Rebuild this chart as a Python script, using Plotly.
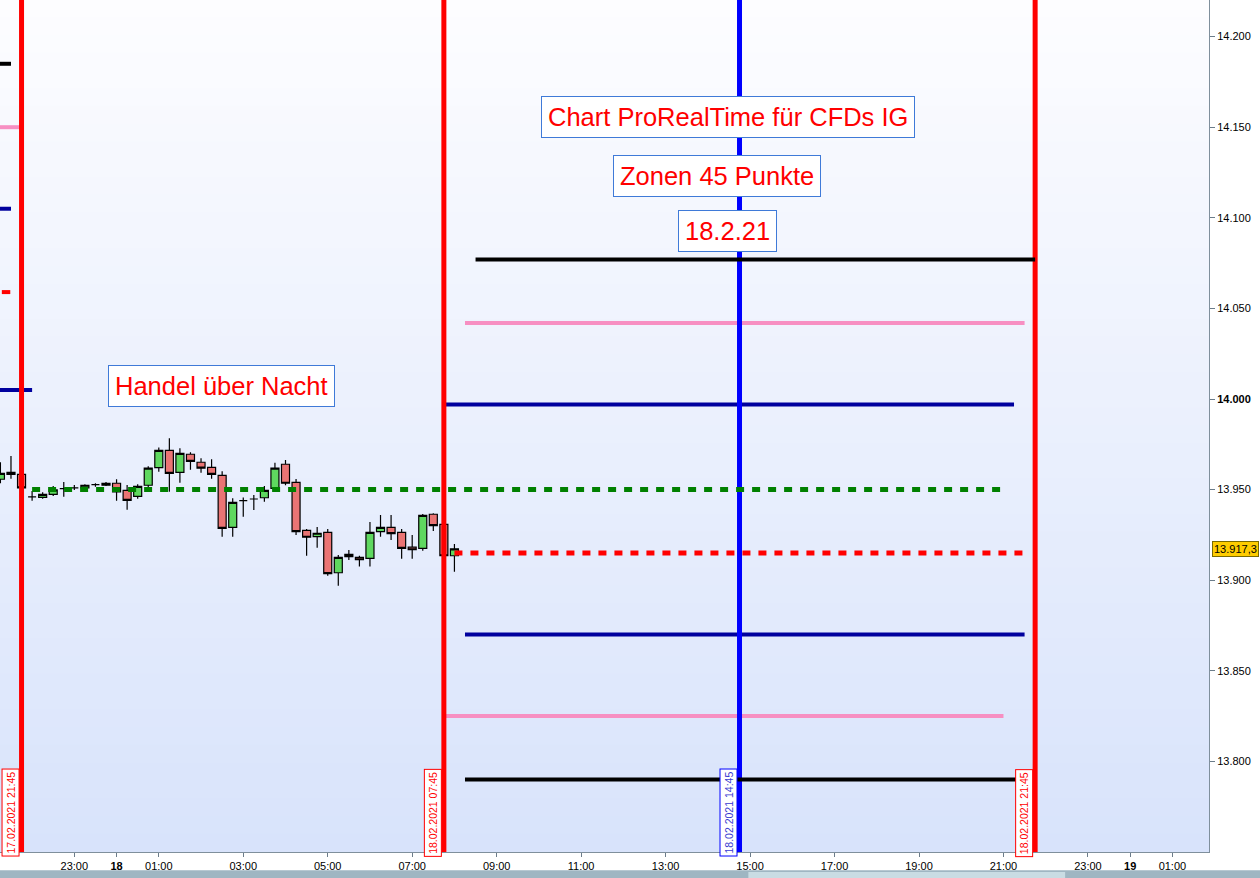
import plotly.graph_objects as go
import pandas as pd

# ---------------- data ----------------
candle_start = "2021-02-17 21:15"
opens = [13955.7, 13959.5, 13958.4, 13946.0, 13945.7, 13947.4, 13950.5, 13950.9, 13951.0, 13952.7,
         13952.4, 13953.5, 13949.6, 13946.3, 13952.4, 13962.1, 13971.7, 13959.5, 13969.5, 13965.1,
         13962.3, 13957.9, 13929.2, 13943.9, 13944.8, 13945.5, 13950.7, 13964.0, 13954.0, 13927.5,
         13924.0, 13926.4, 13904.1, 13913.0, 13912.6, 13912.1, 13926.8, 13929.2, 13926.4, 13918.2,
         13917.6, 13936.4, 13930.8, 13913.5]
highs = [13965.1, 13968.5, 13959.0, 13949.2, 13948.5, 13952.0, 13954.2, 13952.5, 13952.9, 13953.5,
         13954.2, 13955.7, 13952.5, 13952.9, 13962.9, 13973.3, 13978.3, 13972.8, 13970.6, 13967.3,
         13966.7, 13960.1, 13945.2, 13945.7, 13947.0, 13952.0, 13964.8, 13966.3, 13955.8, 13928.3,
         13929.4, 13928.3, 13913.9, 13916.7, 13913.5, 13932.1, 13936.0, 13936.0, 13928.3, 13924.9,
         13936.5, 13936.9, 13931.5, 13920.0]
lows = [13953.5, 13956.0, 13950.5, 13943.9, 13945.0, 13946.5, 13946.1, 13949.8, 13949.8, 13951.6,
        13952.0, 13943.9, 13938.9, 13945.0, 13950.7, 13959.9, 13948.8, 13953.8, 13961.0, 13959.3,
        13956.0, 13924.0, 13924.0, 13935.0, 13938.7, 13943.3, 13948.8, 13952.4, 13924.9, 13913.5,
        13917.9, 13902.5, 13897.0, 13911.1, 13907.5, 13907.5, 13924.0, 13922.2, 13911.9, 13911.9,
        13916.3, 13927.2, 13912.5, 13904.7]
closes = [13959.0, 13958.4, 13951.0, 13946.0, 13947.4, 13949.8, 13950.5, 13950.9, 13952.4, 13952.7,
          13953.5, 13948.8, 13944.1, 13951.8, 13961.8, 13971.7, 13959.0, 13970.0, 13965.6, 13961.8,
          13958.4, 13928.6, 13943.0, 13943.9, 13944.8, 13949.6, 13961.8, 13953.5, 13926.8, 13923.7,
          13925.9, 13903.6, 13912.6, 13914.3, 13911.3, 13926.4, 13929.2, 13925.7, 13917.6, 13916.8,
          13935.8, 13930.1, 13913.5, 13917.3]
candle_times = pd.date_range(candle_start, periods=len(opens), freq="15min")

# zone lines of the day (18.2.21)
zone_names = ["black_up", "pink_up", "blue_up", "green_pivot", "red_close", "blue_dn", "pink_dn", "black_dn"]
zone_levels = [14077, 14042, 13997, 13950, 13915, 13870, 13825, 13790]
zone_start = ["2021-02-18 08:30", "2021-02-18 08:15", "2021-02-18 07:45", "2021-02-17 22:00",
              "2021-02-18 08:00", "2021-02-18 08:15", "2021-02-18 07:45", "2021-02-18 08:15"]
zone_end = ["2021-02-18 21:45", "2021-02-18 21:30", "2021-02-18 21:15", "2021-02-18 21:00",
            "2021-02-18 21:30", "2021-02-18 21:30", "2021-02-18 21:00", "2021-02-18 21:30"]

# previous day's lines (ending at left edge)
prev_levels = [14185, 14150, 14105, 14059, 14005]
prev_start = ["2021-02-17 21:00", "2021-02-17 21:00", "2021-02-17 21:00", "2021-02-17 21:17", "2021-02-17 21:00"]
prev_end = ["2021-02-17 21:30", "2021-02-17 21:44", "2021-02-17 21:30", "2021-02-17 21:29", "2021-02-17 22:00"]

# vertical time markers
vline_times = ["2021-02-17 21:45", "2021-02-18 07:45", "2021-02-18 14:45", "2021-02-18 21:45"]
vline_labels = ["17.02.2021 21:45", "18.02.2021 07:45", "18.02.2021 14:45", "18.02.2021 21:45"]

# text boxes
box_texts = ["Chart ProRealTime für CFDs IG", "Zonen 45 Punkte", "18.2.21", "Handel über Nacht"]
box_times = ["2021-02-18 14:28", "2021-02-18 14:13", "2021-02-18 14:28", "2021-02-18 02:29"]
box_prices = [14155.6, 14123.1, 14092.7, 14007.2]

last_price = 13917.3
last_price_label = "13.917,3"

# axis ticks
y_tickvals = [13800, 13850, 13900, 13950, 14000, 14050, 14100, 14150, 14200]
y_ticktext = ["13.800", "13.850", "13.900", "13.950", "<b>14.000</b>", "14.050", "14.100", "14.150", "14.200"]
x_tickvals = ["2021-02-17 23:00", "2021-02-18 00:00", "2021-02-18 01:00", "2021-02-18 03:00",
              "2021-02-18 05:00", "2021-02-18 07:00", "2021-02-18 09:00", "2021-02-18 11:00",
              "2021-02-18 13:00", "2021-02-18 15:00", "2021-02-18 17:00", "2021-02-18 19:00",
              "2021-02-18 21:00", "2021-02-18 23:00", "2021-02-19 00:00", "2021-02-19 01:00"]
x_ticktext = ["23:00", "<b>18</b>", "01:00", "03:00", "05:00", "07:00", "09:00", "11:00",
              "13:00", "15:00", "17:00", "19:00", "21:00", "23:00", "<b>19</b>", "01:00"]

x_range = ["2021-02-17 21:14:24", "2021-02-19 01:52:00"]
y_range = [13750, 14220.2]

# ---------------- styles ----------------
FONT = "Arial, Liberation Sans, sans-serif"
zone_style = {
    "black_up": dict(color="#000000", width=4, dash="solid"),
    "pink_up": dict(color="#f78fc2", width=4, dash="solid"),
    "blue_up": dict(color="#00009e", width=4, dash="solid"),
    "green_pivot": dict(color="#008000", width=5, dash="8px,8px"),
    "red_close": dict(color="#ff0000", width=5, dash="8px,8px"),
    "blue_dn": dict(color="#00009e", width=4, dash="solid"),
    "pink_dn": dict(color="#f78fc2", width=4, dash="solid"),
    "black_dn": dict(color="#000000", width=4, dash="solid"),
}
prev_colors = ["#000000", "#f78fc2", "#00009e", "#ff0000", "#00009e"]
vline_colors = ["#ff0000", "#ff0000", "#0000ff", "#ff0000"]
vlabel_colors = ["#ff0000", "#ff0000", "#3a3ad0", "#ff0000"]

fig = go.Figure()

fig.add_trace(go.Candlestick(
    x=candle_times, open=opens, high=highs, low=lows, close=closes,
    increasing=dict(line=dict(color="#000000", width=1.2), fillcolor="#5fd85f"),
    decreasing=dict(line=dict(color="#000000", width=1.2), fillcolor="#ea7474"),
    whiskerwidth=0, showlegend=False, hoverinfo="skip",
))


def hline(name, level, t0, t1, style):
    fig.add_trace(go.Scatter(
        x=[t0, t1], y=[level, level], mode="lines",
        line=dict(color=style["color"], width=style["width"], dash=style["dash"]),
        showlegend=False, hoverinfo="skip", name=name,
    ))


def vline(t, color):
    fig.add_trace(go.Scatter(
        x=[t, t], y=[y_range[0] - 100, y_range[1] + 100], mode="lines",
        line=dict(color=color, width=5), showlegend=False, hoverinfo="skip",
    ))


# drawing order: lines under the vertical markers first
for i, n in enumerate(zone_names):
    if n in ("pink_up", "pink_dn", "red_close", "blue_up", "blue_dn"):
        hline(n, zone_levels[i], zone_start[i], zone_end[i], zone_style[n])
for i, lv in enumerate(prev_levels):
    hline("prev%d" % i, lv, prev_start[i], prev_end[i], dict(color=prev_colors[i], width=4, dash="solid"))
for t, c in zip(vline_times, vline_colors):
    vline(t, c)
for i, n in enumerate(zone_names):
    if n in ("black_up", "black_dn", "green_pivot"):
        hline(n, zone_levels[i], zone_start[i], zone_end[i], zone_style[n])

# background gradient bands
shapes = []
nb = 48
top = (253, 253, 255)
bot = (216, 227, 251)
for k in range(nb):
    f = (k + 0.5) / nb
    col = tuple(round(top[j] + (bot[j] - top[j]) * f) for j in range(3))
    shapes.append(dict(type="rect", xref="paper", yref="paper", x0=0, x1=1,
                       y0=1 - (k + 1) / nb, y1=1 - k / nb + 0.001,
                       fillcolor="rgb(%d,%d,%d)" % col, line=dict(width=0), layer="below"))
# bottom UI strip
shapes.append(dict(type="rect", xref="paper", yref="paper", x0=-0.01, x1=1.05, y0=-0.032, y1=-0.0215,
                   fillcolor="#9fb6c2", line=dict(width=0), layer="above"))
shapes.append(dict(type="rect", xref="paper", yref="paper", x0=0.619, x1=0.881, y0=-0.032, y1=-0.0235,
                   fillcolor="#c9dce3", line=dict(width=0), layer="above"))

annotations = []
for txt, t, p in zip(box_texts, box_times, box_prices):
    annotations.append(dict(
        x=t, y=p, xref="x", yref="y", text=txt, showarrow=False,
        font=dict(family=FONT, size=25.5, color="#ff0000"),
        bgcolor="#ffffff", bordercolor="#3f7ad8", borderwidth=1, borderpad=6,
        xanchor="center", yanchor="middle",
    ))
for t, lab, c, lc in zip(vline_times, vline_labels, vlabel_colors, vline_colors):
    annotations.append(dict(
        x=t, y=0, xref="x", yref="paper", text=lab, showarrow=False, textangle=-90,
        font=dict(family=FONT, size=10.5, color=c),
        bgcolor="#ffffff", bordercolor=lc, borderwidth=1, borderpad=2,
        xanchor="right", yanchor="bottom", xshift=-2, yshift=-5,
    ))
annotations.append(dict(
    x=1, y=last_price, xref="paper", yref="y", text=last_price_label, showarrow=False,
    font=dict(family=FONT, size=11, color="#000000"),
    bgcolor="#ffcc00", bordercolor="#7a6a00", borderwidth=1, borderpad=1,
    xanchor="left", yanchor="middle", xshift=3,
))

fig.update_layout(
    width=1260, height=878,
    margin=dict(l=0, r=51, t=0, b=26),
    paper_bgcolor="#ffffff", plot_bgcolor="#eaf0fc",
    shapes=shapes, annotations=annotations,
    boxgap=0.24, boxgroupgap=0,
    font=dict(family=FONT, size=11, color="#000000"),
    showlegend=False,
    xaxis=dict(type="date", range=x_range, tickvals=x_tickvals, ticktext=x_ticktext,
               showgrid=False, zeroline=False, rangeslider=dict(visible=False),
               ticks="outside", ticklen=4, tickcolor="#6b7c8a",
               showline=True, linecolor="#7f8f9c", linewidth=1,
               tickfont=dict(family=FONT, size=11, color="#000000")),
    yaxis=dict(range=y_range, side="right", tickvals=y_tickvals, ticktext=y_ticktext,
               showgrid=False, zeroline=False, ticks="outside", ticklen=5, tickcolor="#6b7c8a",
               showline=True, linecolor="#7f8f9c", linewidth=1,
               tickfont=dict(family=FONT, size=11, color="#000000")),
)

fig.write_html("out.html", config={"displayModeBar": False},
               post_script="document.body.style.margin='0';")
